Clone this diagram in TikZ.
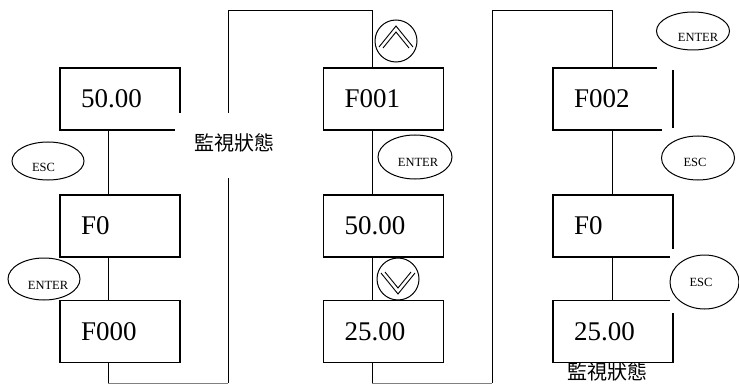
\documentclass[tikz,border=0pt]{standalone}
\usepackage{fontspec}
\setmainfont{Liberation Serif}
\newfontfamily\boxfont{Liberation Serif}
\newfontfamily\cjkfont{Noto Sans CJK TC}
\usetikzlibrary{shapes.geometric,calc}
\begin{document}
\begin{tikzpicture}[x=1pt,y=-1pt,
  box/.style={draw,line width=1.3pt,rectangle,minimum height=62pt,text width=78pt,
    inner xsep=21pt,inner ysep=0pt,align=left,font=\boxfont\fontsize{27}{27}\selectfont},
  link/.style={line width=1pt},
  thinlink/.style={line width=0.7pt},
  baseline link/.style={line width=1pt,gray},
  key/.style={draw,ellipse,line width=1pt,inner sep=0pt},
  keytext/.style={font=\boxfont\fontsize{12.5}{12.5}\selectfont,inner sep=0pt},
  arrowkey/.style={draw,circle,line width=1pt,minimum size=42pt,inner sep=0pt},
  chevron/.style={line width=0.9pt},
  state/.style={font=\cjkfont\fontsize{20}{20}\selectfont,inner sep=0pt},
  mask/.style={fill=white,draw=none}]
\useasboundingbox (0,0) rectangle (739,385);

% connector columns
\coordinate (cl) at (108,0);
\coordinate (cm) at (372,0);
\coordinate (cr) at (612,0);

% boxes
\node[box] (a1) at (120,99)    {50.00};
\node[box] (a2) at (120,226)   {F0};
\node[box] (a3) at (120,331.5) {F000};
\node[box] (b1) at (383.5,99)    {F001};
\node[box] (b2) at (383.5,226)   {50.00};
\node[box] (b3) at (383.5,331.5) {25.00};
\node[box] (c1) at (613,99)    {F002};
\node[box] (c2) at (613,226)   {F0};
\node[box] (c3) at (613,331.5) {25.00};

% vertical links inside columns
\draw[thinlink] (a1.south -| cl) -- (a2.north -| cl);
\draw[link] (a2.south -| cl) -- (a3.north -| cl);
\draw[link] (b1.south -| cm) -- (b2.north -| cm);
\draw[link] (b2.south -| cm) -- (b3.north -| cm);
\draw[link] (c1.south -| cr) -- (c2.north -| cr);
\draw[link] (c2.south -| cr) -- (c3.north -| cr);

% loops between columns
\coordinate (p1) at (108,383);
\coordinate (p2) at (228,383);
\coordinate (p3) at (228,11);
\coordinate (p4) at (372,11);
\draw[link] (a3.south -| p1) -- (p1);
\draw[baseline link] (p1) -- (p2);
\draw[link] (p2) -- (p3) -- (p4) -- (b1.north -| p4);

\coordinate (q1) at (372,383);
\coordinate (q2) at (492,383);
\coordinate (q3) at (492,11);
\coordinate (q4) at (612,11);
\draw[link] (b3.south -| q1) -- (q1);
\draw[baseline link] (q1) -- (q2);
\draw[link] (q2) -- (q3) -- (q4) -- (c1.north -| q4);

% white areas behind labels and keys
\fill[mask] (175,113) rectangle (290,178);
\fill[mask] (657,0) rectangle (739,70);
\fill[mask] (662,128) rectangle (739,185);
\fill[mask] (670,249) rectangle (739,313);

% state labels
\node[state] (s1) at (234,143) {監視狀態};
\node[state] (s2) at (607,372) {監視狀態};

% keys
\node[key,minimum width=72pt,minimum height=38pt] (k1) at (48,161) {};
\node[keytext] (k1t) at ($(k1)+(-4.5,6)$) {ESC};
\node[key,minimum width=72pt,minimum height=42pt] (k2) at (44,279) {};
\node[keytext] (k2t) at ($(k2)+(4,6)$) {ENTER};
\node[key,minimum width=74pt,minimum height=44pt] (k3) at (415,157) {};
\node[keytext] (k3t) at ($(k3)+(3,5)$) {ENTER};
\node[key,minimum width=73pt,minimum height=38pt] (k4) at (693,31) {};
\node[keytext] (k4t) at ($(k4)+(5,6)$) {ENTER};
\node[key,minimum width=73pt,minimum height=44pt] (k5) at (698,158) {};
\node[keytext] (k5t) at ($(k5)+(-3,4)$) {ESC};
\node[key,minimum width=69pt,minimum height=54pt] (k6) at (704.5,282) {};
\node[keytext] (k6t) at ($(k6)+(-3.5,0)$) {ESC};

% arrow keys
\node[arrowkey] (up) at (396,41) {};
\draw[chevron] ($(up)+(-17,6)$) -- ($(up)+(0,-15)$) -- ($(up)+(17,6)$);
\draw[chevron] ($(up)+(-13,7)$) -- ($(up)+(0,-9)$) -- ($(up)+(13,7)$);
\node[arrowkey] (down) at (398,279) {};
\draw[chevron] ($(down)+(-17,-6)$) -- ($(down)+(0,15)$) -- ($(down)+(17,-6)$);
\draw[chevron] ($(down)+(-13,-7)$) -- ($(down)+(0,9)$) -- ($(down)+(13,-7)$);
\end{tikzpicture}
\end{document}
